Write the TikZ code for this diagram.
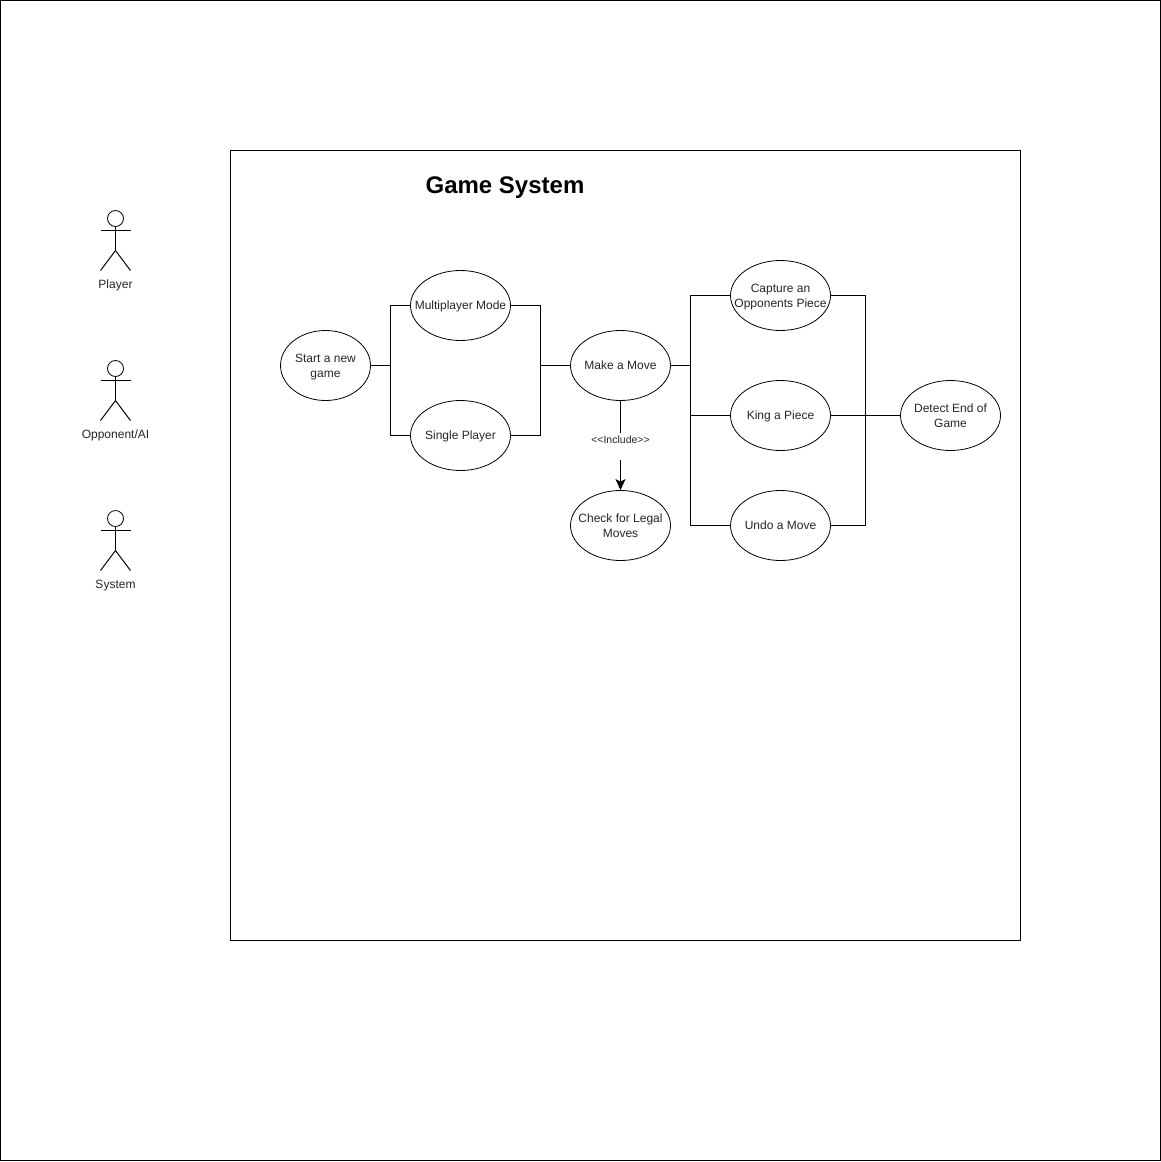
\documentclass[tikz,border=0pt]{standalone}
\usepackage{fontspec}
\setmainfont{Liberation Sans}
\usetikzlibrary{shapes.geometric,arrows.meta}
\tikzset{
  usecase/.style={draw=black,fill=white,ellipse,line width=0.8pt,minimum width=100pt,minimum height=70pt,inner sep=0pt,text=black!85,font=\fontsize{12}{15}\selectfont},
  lbl/.style={inner sep=0pt,anchor=base,text=black!85,font=\fontsize{12}{15}\selectfont},
  link/.style={draw=black,line width=1pt},
  head/.style={draw=black,circle,minimum size=16pt,inner sep=0pt,line width=0.8pt},
  limb/.style={draw=black,line width=1pt}
}
\newcommand{\uctext}[1]{\makebox[0pt]{\raisebox{-4pt}[0pt][0pt]{\begin{tabular}{@{}c@{}}#1\end{tabular}}}}
\newcommand{\actorfig}[4]{%
  \node[head] (#1h) at (#2,#3+8) {};
  \coordinate (#1a) at (#2-15,#3+20);
  \coordinate (#1b) at (#2+15,#3+20);
  \coordinate (#1c) at (#2,#3+40);
  \coordinate (#1d) at (#2-15,#3+60);
  \coordinate (#1e) at (#2+15,#3+60);
  \draw[limb] (#1h) -- (#1c);
  \draw[limb] (#1a) -- (#1b);
  \draw[limb] (#1d) -- (#1c) -- (#1e);
  \node[lbl] (#1t) at (#2,#3+77.7) {#4};
}
\begin{document}
\begin{tikzpicture}[x=1pt,y=-1pt,line width=1pt]
\useasboundingbox (0,0) rectangle (1161,1162);
\node[draw=black,line width=1.5pt,minimum width=1160pt,minimum height=1160pt,inner sep=0pt] (frame) at (580.5,580.5) {};
\node[draw=black,line width=1pt,minimum width=790pt,minimum height=790pt,inner sep=0pt] (sys) at (625.5,545.5) {};
\node[inner sep=0pt,anchor=base,font=\fontsize{24}{28}\selectfont\bfseries] (title) at (505,193) {Game System};

\actorfig{p}{115.5}{210.5}{Player}
\actorfig{o}{115.5}{360.5}{Opponent/AI}
\actorfig{s}{115.5}{510.5}{System}

\node[usecase,minimum width=90pt] (start) at (325.5,365.5) {\uctext{Start a new\\game}};
\node[usecase] (multi) at (460.5,305.5) {\uctext{Multiplayer Mode}};
\node[usecase] (single) at (460.5,435.5) {\uctext{Single Player}};
\node[usecase] (move) at (620.5,365.5) {\uctext{Make a Move}};
\node[usecase] (check) at (620.5,525.5) {\uctext{Check for Legal\\Moves}};
\node[usecase] (capture) at (780.5,295.5) {\uctext{Capture an\\Opponents Piece}};
\node[usecase] (king) at (780.5,415.5) {\uctext{King a Piece}};
\node[usecase] (undo) at (780.5,525.5) {\uctext{Undo a Move}};
\node[usecase] (detect) at (950.5,415.5) {\uctext{Detect End of\\Game}};

\coordinate (j1) at (390.5,365.5);
\coordinate (j2) at (540.5,365.5);
\coordinate (j3) at (690.5,365.5);
\coordinate (j4) at (865.5,415.5);

\draw[link] (start.east) -- (j1);
\draw[link] (multi.west) -| (j1) |- (single.west);
\draw[link] (multi.east) -| (j2) |- (single.east);
\draw[link] (j2) -- (move.west);
\draw[link] (move.east) -- (j3);
\draw[link] (capture.west) -| (j3) |- (undo.west);
\draw[link] (king.west) -| (j3);
\draw[link] (capture.east) -| (j4) |- (undo.east);
\draw[link] (king.east) -- (j4);
\draw[link] (j4) -- (detect.west);

\draw[link,-{Stealth[length=11pt,width=10pt,inset=2.5pt]}] (move.south) -- (check.north);
\node[fill=white,inner sep=0pt,minimum height=27pt,minimum width=62pt,font=\fontsize{10.5}{12}\selectfont,text=black!85] (inc) at (620.5,446.5) {\raisebox{3pt}[0pt][0pt]{<{}<Include>{}>}};
\end{tikzpicture}
\end{document}
